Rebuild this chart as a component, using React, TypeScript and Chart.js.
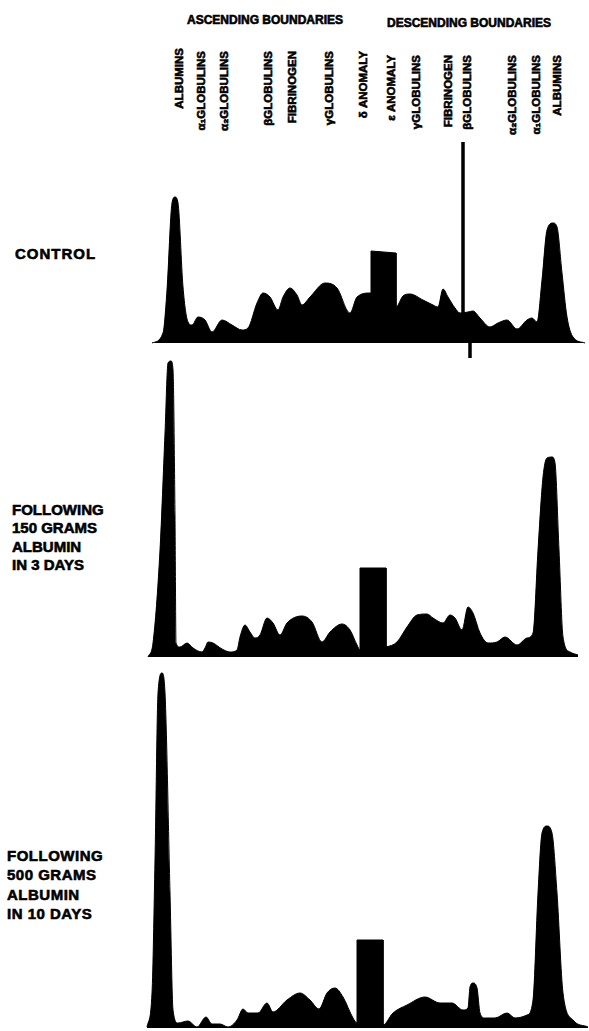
import React, { useEffect, useRef } from "react";
import { Chart, registerables } from "chart.js";

Chart.register(...registerables);

// ---------- DATA (migration position, relative boundary height) ----------
const X_MIN = 0;
const X_MAX = 442;

// Panel 1: control
const controlPos = [6, 17, 21, 26, 29, 32, 37, 42, 46, 52, 59, 66, 76, 86, 96, 102, 111, 117, 124, 132, 137, 144, 151, 156, 164, 179, 191, 204, 211, 224, 250, 257, 264, 277, 287, 292, 297, 302, 309, 314, 322, 327, 334, 344, 352, 361, 371, 381, 386, 391, 396, 401, 407, 411, 416, 421, 427, 439];
const controlHeight = [0, 10, 53, 140, 146, 140, 56, 21, 18, 26, 23, 11, 23, 18, 13, 15, 40, 50, 46, 33, 46, 55, 48, 38, 46, 60, 55, 30, 46, 50, 36, 47, 49, 43, 38, 36, 54, 46, 35, 30, 31, 32, 25, 16, 20, 23, 14, 23, 25, 21, 63, 113, 120, 116, 70, 26, 6, 0];
const controlBarEdges = [225, 250];
const controlBarTops = [92, 90];
const controlSpikePos = [317, 317, 324, 324];
const controlSpikeHeight = [201, 28, 5, -15];

// Panel 2: following 150 grams albumin in 3 days
const dose150Pos = [2, 7, 14, 19, 22, 25, 27, 29, 30, 34, 41, 47, 56, 59, 62, 67, 76, 84, 91, 94, 99, 104, 109, 114, 121, 127, 134, 141, 156, 166, 176, 184, 196, 204, 211, 214, 240, 251, 261, 271, 281, 287, 297, 304, 309, 316, 322, 327, 334, 342, 351, 359, 371, 381, 387, 392, 397, 401, 406, 409, 413, 417, 424, 432];
const dose150Height = [0, 14, 107, 224, 294, 296, 287, 140, 14, 10, 14, 9, 5, 9, 15, 14, 8, 5, 7, 20, 32, 25, 19, 22, 39, 34, 22, 34, 41, 35, 15, 25, 33, 27, 12, 7, 10, 15, 30, 42, 43, 39, 34, 42, 39, 27, 50, 44, 24, 14, 15, 20, 12, 19, 24, 107, 180, 199, 200, 194, 107, 20, 5, 2];
const dose150BarEdges = [214, 240];
const dose150BarTops = [89, 89];

// Panel 3: following 500 grams albumin in 10 days
const dose500Pos = [1, 6, 9, 12, 16, 19, 24, 27, 32, 42, 51, 60, 66, 74, 82, 91, 97, 102, 112, 121, 127, 141, 154, 164, 173, 181, 189, 197, 207, 211, 237, 247, 261, 279, 294, 306, 317, 322, 324, 327, 331, 334, 339, 349, 361, 369, 381, 387, 392, 396, 401, 406, 411, 417, 427, 442];
const dose500Height = [1, 35, 168, 335, 355, 335, 135, 18, 5, 7, 1, 11, 4, 4, 1, 8, 19, 15, 15, 25, 16, 28, 35, 28, 19, 35, 40, 31, 10, 5, 3, 15, 23, 31, 25, 25, 18, 20, 41, 45, 40, 15, 10, 10, 15, 10, 13, 28, 135, 195, 202, 195, 135, 35, 8, 1];
const dose500BarEdges = [211, 237];
const dose500BarTops = [88, 88];

// Text
const ascendingTitle = "ASCENDING BOUNDARIES";
const descendingTitle = "DESCENDING BOUNDARIES";
const ascendingLabels = ["ALBUMINS", "α₁GLOBULINS", "α₂GLOBULINS", "βGLOBULINS", "FIBRINOGEN", "γGLOBULINS", "δ ANOMALY"];
const descendingLabels = ["ε ANOMALY", "γGLOBULINS", "FIBRINOGEN", "βGLOBULINS", "α₂GLOBULINS", "α₁GLOBULINS", "ALBUMINS"];
const panelTitles = [["CONTROL"], ["FOLLOWING", "150 GRAMS", "ALBUMIN", "IN 3 DAYS"], ["FOLLOWING", "500 GRAMS", "ALBUMIN", "IN 10 DAYS"]];

// ---------- LAYOUT ----------
const FONT = '"Liberation Sans", Arial, Helvetica, sans-serif';
const PLOT_LEFT = 146;
const PLOT_WIDTH = 442;
const ascendingLabelX = [179, 201, 224, 268, 292, 329, 363];
const descendingLabelX = [391, 416, 448, 467, 512, 536, 557];

type PanelProps = {
  pos: number[];
  height: number[];
  barEdges: number[];
  barTops: number[];
  spikePos?: number[];
  spikeHeight?: number[];
  top: number;
  h: number;
  yMin: number;
  yMax: number;
};

function zip(xs: number[], ys: number[]) {
  return xs.map((x, i) => ({ x, y: ys[i] }));
}

function Panel(p: PanelProps) {
  const ref = useRef<HTMLCanvasElement | null>(null);
  useEffect(() => {
    if (!ref.current) return;
    const datasets: any[] = [
      {
        data: zip(p.pos, p.height),
        borderColor: "#000",
        backgroundColor: "#000",
        borderWidth: 1,
        fill: "origin",
        cubicInterpolationMode: "monotone",
        pointRadius: 0,
      },
      {
        data: [
          { x: p.barEdges[0], y: 0 },
          { x: p.barEdges[0], y: p.barTops[0] },
          { x: p.barEdges[1], y: p.barTops[1] },
          { x: p.barEdges[1], y: 0 },
        ],
        borderColor: "#000",
        backgroundColor: "#000",
        borderWidth: 1,
        fill: "origin",
        tension: 0,
        pointRadius: 0,
      },
    ];
    if (p.spikePos && p.spikeHeight) {
      datasets.push({
        data: zip(p.spikePos, p.spikeHeight),
        borderColor: "#000",
        borderWidth: 3.5,
        fill: false,
        tension: 0,
        pointRadius: 0,
      });
    }
    const chart = new Chart(ref.current, {
      type: "line",
      data: { datasets },
      options: {
        animation: false,
        responsive: false,
        devicePixelRatio: 1,
        layout: { padding: 0 },
        plugins: { legend: { display: false }, tooltip: { enabled: false } },
        scales: {
          x: { type: "linear", min: X_MIN, max: X_MAX, display: false },
          y: { type: "linear", min: p.yMin, max: p.yMax, display: false },
        },
      } as any,
    });
    return () => chart.destroy();
  }, []);
  return (
    <canvas
      ref={ref}
      width={PLOT_WIDTH}
      height={p.h}
      style={{ position: "absolute", left: PLOT_LEFT, top: p.top, width: PLOT_WIDTH, height: p.h }}
    />
  );
}

const heavy: React.CSSProperties = { WebkitTextStroke: "0.6px #000", color: "#000" } as any;

function VLabel({ text, cx, top }: { text: string; cx: number; top: number }) {
  return (
    <div
      style={{
        position: "absolute",
        left: cx - 6,
        top,
        width: 12,
        writingMode: "vertical-rl",
        transform: "rotate(180deg)",
        font: `bold 11.5px ${FONT}`,
        lineHeight: "12px",
        whiteSpace: "nowrap",
        ...heavy,
      }}
    >
      {text}
    </div>
  );
}

function RowTitle({ lines, left, top, lineHeight, spacing }: { lines: string[]; left: number; top: number; lineHeight: number; spacing: number }) {
  return (
    <div
      style={{
        position: "absolute",
        left,
        top,
        font: `bold 15px ${FONT}`,
        lineHeight: `${lineHeight}px`,
        letterSpacing: `${spacing}px`,
        whiteSpace: "nowrap",
        ...heavy,
      }}
    >
      {lines.map((l, i) => (
        <div key={i}>{l}</div>
      ))}
    </div>
  );
}

export default function App() {
  return (
    <div style={{ position: "absolute", left: 0, top: 0, width: 589, height: 1031, background: "#fff", overflow: "hidden" }}>
      <div style={{ position: "absolute", left: 185, top: 13, width: 160, textAlign: "center", font: `bold 12px ${FONT}`, whiteSpace: "nowrap", ...heavy }}>
        {ascendingTitle}
      </div>
      <div style={{ position: "absolute", left: 386, top: 16, width: 166, textAlign: "center", font: `bold 12px ${FONT}`, whiteSpace: "nowrap", ...heavy }}>
        {descendingTitle}
      </div>
      {ascendingLabels.map((t, i) => (
        <VLabel key={"a" + i} text={t} cx={ascendingLabelX[i]} top={i === 0 ? 48 : 51} />
      ))}
      {descendingLabels.map((t, i) => (
        <VLabel key={"d" + i} text={t} cx={descendingLabelX[i]} top={55} />
      ))}

      <Panel pos={controlPos} height={controlHeight} barEdges={controlBarEdges} barTops={controlBarTops}
        spikePos={controlSpikePos} spikeHeight={controlSpikeHeight} top={135} h={228} yMin={-20} yMax={208} />
      <Panel pos={dose150Pos} height={dose150Height} barEdges={dose150BarEdges} barTops={dose150BarTops}
        top={355} h={307} yMin={-5} yMax={302} />
      <Panel pos={dose500Pos} height={dose500Height} barEdges={dose500BarEdges} barTops={dose500BarTops}
        top={665} h={366} yMin={-3} yMax={363} />

      <RowTitle lines={panelTitles[0]} left={15} top={246} lineHeight={15} spacing={1} />
      <RowTitle lines={panelTitles[1]} left={12} top={501} lineHeight={18.3} spacing={0} />
      <RowTitle lines={panelTitles[2]} left={7} top={846} lineHeight={19.3} spacing={0.5} />
    </div>
  );
}
